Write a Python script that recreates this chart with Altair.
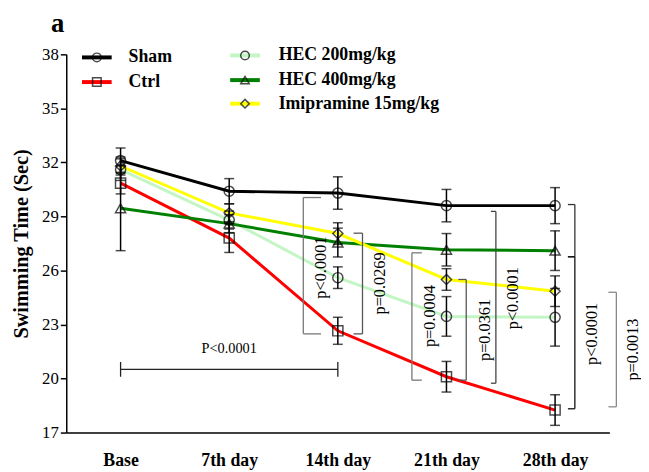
import altair as alt
import pandas as pd

days = ["Base", "7th day", "14th day", "21th day", "28th day"]
groups = ["Sham", "Ctrl", "HEC 200mg/kg", "HEC 400mg/kg", "Imipramine 15mg/kg"]
colors = ["#000000", "#ff0000", "#c4f5c4", "#008000", "#ffff00"]
shapes = ["circle", "square", "circle", "triangle-up", "diamond"]

sham_mean = [32.1, 30.4, 30.3, 29.6, 29.6]
sham_err = [0.7, 0.7, 0.9, 0.9, 1.0]
ctrl_mean = [30.85, 27.8, 22.65, 20.1, 18.25]
ctrl_err = [0.6, 0.8, 0.75, 0.85, 0.85]
hec200_mean = [31.6, 28.8, 25.6, 23.45, 23.4]
hec200_err = [0.6, 0.5, 0.6, 1.1, 1.6]
hec400_mean = [29.45, 28.6, 27.55, 27.15, 27.1]
hec400_err = [2.35, 0.5, 0.8, 0.9, 1.1]
imip_mean = [31.8, 29.2, 28.05, 25.5, 24.85]
imip_err = [0.5, 0.5, 0.6, 0.6, 0.85]

y_ticks = [17, 20, 23, 26, 29, 32, 35, 38]

# significance brackets: (x of vertical line, x of tick ends, y top, y bottom, colour)
brackets = [
    (1.682, 1.845, 30.05, 22.48, "#777777"),
    (2.227, 2.145, 28.07, 22.48, "#555555"),
    (2.682, 2.773, 26.98, 19.91, "#777777"),
    (3.182, 3.109, 25.50, 19.91, "#555555"),
    (3.455, 3.409, 29.28, 19.74, "#444444"),
    (4.182, 4.118, 29.66, 26.76, "#333333"),
    (4.182, 4.118, 26.76, 18.32, "#111111"),
    (4.564, 4.491, 24.79, 18.43, "#888888"),
]
p_labels = ["p<0.0001", "p=0.0269", "p=0.0004", "p=0.0361", "p<0.0001", "p<0.0001", "p=0.0013"]
p_x = [1.845, 2.391, 2.845, 3.355, 3.609, 4.336, 4.72]
p_y = [26.16, 25.28, 23.47, 22.70, 24.46, 22.48, 21.61]

# horizontal comparison bar Base -> 14th day
hbar_x = [0.0, 2.0]
hbar_y = 20.51
hbar_cap = 0.41
hbar_label = "P<0.0001"
hbar_label_pos = (1.0, 21.66)

# manual legend layout (data coordinates)
legend_rows = [
    ("Sham", -0.355, -0.082, 37.83, 0.073),
    ("Ctrl", -0.355, -0.082, 36.46, 0.073),
    ("HEC 200mg/kg", 1.009, 1.282, 37.94, 1.455),
    ("HEC 400mg/kg", 1.009, 1.282, 36.57, 1.455),
    ("Imipramine 15mg/kg", 1.009, 1.282, 35.26, 1.455),
]

FONT = "Liberation Serif"

means = [sham_mean, ctrl_mean, hec200_mean, hec400_mean, imip_mean]
errs = [sham_err, ctrl_err, hec200_err, hec400_err, imip_err]
rows = []
for g, m, e in zip(groups, means, errs):
    for i in range(len(days)):
        rows.append({"group": g, "xi": i, "day": days[i], "mean": m[i],
                     "lo": m[i] - e[i], "hi": m[i] + e[i]})
df = pd.DataFrame(rows)

xscale = alt.Scale(domain=[-0.5, 4.5], nice=False, zero=False)
yscale = alt.Scale(domain=[17, 38], nice=False, zero=False)
color = alt.Color("group:N", scale=alt.Scale(domain=groups, range=colors), legend=None)
shape = alt.Shape("group:N", scale=alt.Scale(domain=groups, range=shapes), legend=None)

label_expr = "[" + ",".join("'" + d + "'" for d in days) + "][datum.value]"

xaxis = alt.Axis(values=[0, 1, 2, 3, 4], labelExpr=label_expr, ticks=False, grid=False,
                 title=None, labelFont=FONT, labelFontSize=18, labelFontWeight="bold",
                 labelColor="black", labelPadding=19, domainColor="black", domainWidth=1.5)
yaxis = alt.Axis(values=y_ticks, grid=False, title="Swimming Time (Sec)",
                 titleFont=FONT, titleFontSize=20.5, titleFontWeight="bold",
                 titleColor="black", titlePadding=10, labelFont=FONT, labelFontSize=17,
                 labelColor="black", labelPadding=2, tickSize=6, tickColor="black",
                 tickWidth=1.5, domainColor="black", domainWidth=1.5)


def X(field):
    return alt.X(field, scale=xscale, axis=xaxis, title=None)


def Y(field):
    return alt.Y(field, scale=yscale, axis=yaxis, title="Swimming Time (Sec)")


lines = alt.Chart(df).mark_line(strokeWidth=3, interpolate="linear").encode(
    x=X("xi:Q"), y=Y("mean:Q"), color=color, detail="group:N",
)
err_rules = alt.Chart(df).mark_rule(color="black", strokeWidth=1.5).encode(
    x=X("xi:Q"), y=Y("lo:Q"), y2="hi:Q",
)
cap_lo = alt.Chart(df).mark_tick(color="black", thickness=1.5, size=10, orient="horizontal").encode(
    x=X("xi:Q"), y=Y("lo:Q"),
)
cap_hi = alt.Chart(df).mark_tick(color="black", thickness=1.5, size=10, orient="horizontal").encode(
    x=X("xi:Q"), y=Y("hi:Q"),
)
points = alt.Chart(df).mark_point(filled=False, color="black", strokeWidth=1.5, size=105).encode(
    x=X("xi:Q"), y=Y("mean:Q"), shape=shape,
)

# brackets
seg = []
for xl, xt, yt, yb, c in brackets:
    seg.append({"x": xl, "x2": xl, "y": yt, "y2": yb, "c": c})
    seg.append({"x": xl, "x2": xt, "y": yt, "y2": yt, "c": c})
    seg.append({"x": xl, "x2": xt, "y": yb, "y2": yb, "c": c})
seg.append({"x": hbar_x[0], "x2": hbar_x[1], "y": hbar_y, "y2": hbar_y, "c": "#222222"})
for xv in hbar_x:
    seg.append({"x": xv, "x2": xv, "y": hbar_y - hbar_cap, "y2": hbar_y + hbar_cap, "c": "#222222"})
seg_df = pd.DataFrame(seg)
bracket_layer = alt.Chart(seg_df).mark_rule(strokeWidth=1.3).encode(
    x=X("x:Q"), x2="x2:Q", y=Y("y:Q"), y2="y2:Q",
    color=alt.Color("c:N", scale=None),
)

p_df = pd.DataFrame({"t": p_labels, "x": p_x, "y": p_y})
p_text = alt.Chart(p_df).mark_text(angle=270, align="center", baseline="middle", font=FONT,
                                   fontSize=16.5, color="black").encode(
    x=X("x:Q"), y=Y("y:Q"), text="t:N",
)
h_df = pd.DataFrame({"t": [hbar_label], "x": [hbar_label_pos[0]], "y": [hbar_label_pos[1]]})
h_text = alt.Chart(h_df).mark_text(align="center", baseline="middle", font=FONT, fontSize=14.5,
                                   color="black").encode(
    x=X("x:Q"), y=Y("y:Q"), text="t:N",
)

panel_df = pd.DataFrame({"t": ["a"], "x": [-0.58], "y": [39.7]})
panel = alt.Chart(panel_df).mark_text(align="center", baseline="middle", font=FONT, fontSize=27,
                                      fontWeight="bold", color="black").encode(
    x=X("x:Q"), y=Y("y:Q"), text="t:N",
)

leg_df = pd.DataFrame([{"group": g, "x": a, "x2": b, "xm": (a + b) / 2, "y": y, "xt": xt}
                       for g, a, b, y, xt in legend_rows])
leg_line = alt.Chart(leg_df).mark_rule(strokeWidth=4).encode(
    x=X("x:Q"), x2="x2:Q", y=Y("y:Q"), color=color,
)
leg_pt = alt.Chart(leg_df).mark_point(filled=False, color="black", strokeWidth=1.5, size=75).encode(
    x=X("xm:Q"), y=Y("y:Q"), shape=shape,
)
leg_text = alt.Chart(leg_df).mark_text(align="left", baseline="middle", font=FONT, fontSize=18,
                                       fontWeight="bold", color="black").encode(
    x=X("xt:Q"), y=Y("y:Q"), text="group:N",
)

chart = alt.layer(
    lines, err_rules, cap_lo, cap_hi, points, bracket_layer, p_text, h_text, panel,
    leg_line, leg_pt, leg_text,
).properties(
    width=550, height=383,
    padding={"left": 59, "top": 44, "right": 32, "bottom": 37},
    autosize=alt.AutoSizeParams(type="none"),
    background="white",
).configure_view(stroke=None)

chart.save("out.html", embed_options={"renderer": "svg", "actions": False})
